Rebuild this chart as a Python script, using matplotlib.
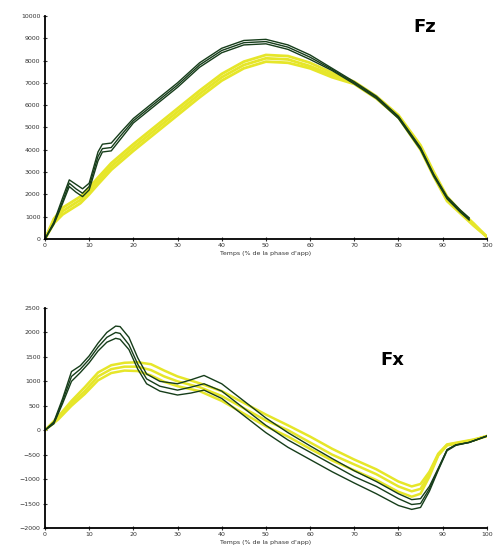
import numpy as np
from matplotlib import pyplot as plt

# Fz - green trials
fz_g_x = [0, 2, 4, 5.5, 7, 8.5, 10, 12, 13, 15, 17, 20, 25, 30, 35, 40, 45, 50, 55, 60, 65, 70, 75, 80, 85, 88, 91, 94, 96]
fz_g_hi = [0, 750, 1850, 2650, 2450, 2250, 2500, 3900, 4250, 4300, 4750, 5400, 6200, 7000, 7900, 8550, 8900, 8950, 8700, 8250, 7650, 7050, 6400, 5500, 4100, 2900, 1900, 1300, 950]
fz_g_mid = [0, 700, 1700, 2500, 2250, 2050, 2350, 3700, 4050, 4100, 4600, 5300, 6100, 6900, 7800, 8450, 8800, 8850, 8600, 8150, 7600, 7000, 6350, 5450, 4050, 2850, 1850, 1250, 900]
fz_g_lo = [0, 650, 1600, 2350, 2100, 1900, 2200, 3500, 3900, 3950, 4450, 5200, 6000, 6800, 7700, 8350, 8700, 8750, 8500, 8050, 7550, 6950, 6300, 5400, 4000, 2800, 1800, 1200, 850]

# Fz - yellow trials
fz_y_x = [0, 2, 4, 6, 8, 10, 12, 15, 20, 25, 30, 35, 40, 45, 50, 55, 60, 65, 70, 75, 80, 85, 88, 91, 94, 97, 100]
fz_y_hi = [0, 900, 1400, 1650, 1900, 2300, 2750, 3400, 4250, 5050, 5850, 6650, 7400, 7950, 8250, 8200, 7900, 7450, 7050, 6400, 5550, 4200, 3000, 1900, 1250, 700, 100]
fz_y_mid = [0, 800, 1250, 1500, 1750, 2150, 2600, 3250, 4100, 4900, 5700, 6500, 7250, 7800, 8100, 8050, 7750, 7350, 7000, 6350, 5500, 4100, 2900, 1800, 1200, 650, 100]
fz_y_lo = [0, 700, 1100, 1350, 1600, 2000, 2450, 3100, 3950, 4750, 5550, 6350, 7100, 7650, 7950, 7900, 7650, 7250, 6950, 6300, 5450, 4000, 2800, 1700, 1150, 600, 100]

# Fx - green trials
fx_g_x = [0, 2, 4, 6, 8, 10, 12, 14, 16, 17, 19, 21, 23, 26, 30, 33, 36, 40, 45, 50, 55, 60, 65, 70, 75, 80, 83, 85, 87, 89, 91, 93, 96, 100]
fx_g_hi = [0, 170, 650, 1200, 1320, 1520, 1780, 2000, 2130, 2120, 1900, 1480, 1150, 1000, 950, 1030, 1120, 950, 600, 250, -50, -320, -580, -830, -1050, -1300, -1420, -1400, -1150, -780, -400, -300, -250, -120]
fx_g_mid = [0, 150, 600, 1100, 1250, 1450, 1700, 1900, 2000, 1980, 1750, 1350, 1050, 900, 820, 880, 950, 800, 450, 100, -200, -450, -700, -950, -1150, -1400, -1520, -1500, -1200, -800, -400, -300, -250, -120]
fx_g_lo = [0, 130, 550, 1000, 1180, 1380, 1620, 1800, 1880, 1860, 1650, 1250, 950, 800, 720, 760, 820, 650, 300, -50, -350, -600, -850, -1080, -1300, -1540, -1620, -1580, -1250, -820, -420, -310, -250, -120]

# Fx - yellow trials
fx_y_x = [0, 3, 6, 9, 12, 15, 18, 21, 24, 27, 30, 35, 40, 45, 50, 55, 60, 65, 70, 75, 80, 83, 85, 87, 89, 91, 94, 97, 100]
fx_y_hi = [0, 280, 600, 880, 1180, 1330, 1380, 1390, 1350, 1220, 1100, 960, 800, 560, 320, 100, -130, -380, -600, -800, -1050, -1150, -1100, -850, -480, -290, -240, -190, -120]
fx_y_mid = [0, 250, 550, 800, 1100, 1250, 1300, 1300, 1230, 1100, 1000, 880, 700, 450, 200, 0, -250, -500, -700, -900, -1150, -1250, -1200, -900, -500, -300, -250, -200, -120]
fx_y_lo = [0, 220, 500, 740, 1020, 1170, 1220, 1210, 1120, 990, 900, 800, 600, 340, 80, -130, -380, -620, -820, -1020, -1260, -1360, -1300, -950, -520, -310, -260, -210, -120]

xticks = [0, 10, 20, 30, 40, 50, 60, 70, 80, 90, 100]
xlabel = "Temps (% de la phase d'app)"

green = '#163d1a'
yellow = '#e6e62a'

fig = plt.figure(figsize=(4.97, 5.59), dpi=100)
ax1 = fig.add_axes([0.0905, 0.5725, 0.889, 0.399])
ax2 = fig.add_axes([0.0905, 0.0555, 0.889, 0.3935])

for ys in (fz_y_hi, fz_y_mid, fz_y_lo):
    ax1.plot(fz_y_x, ys, color=yellow, lw=2.0)
for ys in (fz_g_hi, fz_g_mid, fz_g_lo):
    ax1.plot(fz_g_x, ys, color=green, lw=1.0)
ax1.set_ylim(0, 10000)
ax1.set_yticks(range(0, 10001, 1000))

for ys in (fx_y_hi, fx_y_mid, fx_y_lo):
    ax2.plot(fx_y_x, ys, color=yellow, lw=1.8)
for ys in (fx_g_hi, fx_g_mid, fx_g_lo):
    ax2.plot(fx_g_x, ys, color=green, lw=1.0)
ax2.set_ylim(-2000, 2500)
ax2.set_yticks(range(-2000, 2501, 500))

for ax in (ax1, ax2):
    ax.set_xlim(0, 100)
    ax.set_xticks(xticks)
    ax.spines['top'].set_visible(False)
    ax.spines['right'].set_visible(False)
    ax.spines['left'].set_linewidth(1.3)
    ax.spines['bottom'].set_linewidth(1.3)
    ax.tick_params(labelsize=4.5, length=2.5, width=0.8, direction='inout', colors='#333333', pad=2)
    ax.set_xlabel(xlabel, fontsize=4.5, labelpad=2, color='#333333')

fig.text(0.855, 0.952, 'Fz', fontsize=13, fontweight='bold', ha='center', va='center')
fig.text(0.79, 0.356, 'Fx', fontsize=13, fontweight='bold', ha='center', va='center')

fig.savefig('out.png', dpi=100)
